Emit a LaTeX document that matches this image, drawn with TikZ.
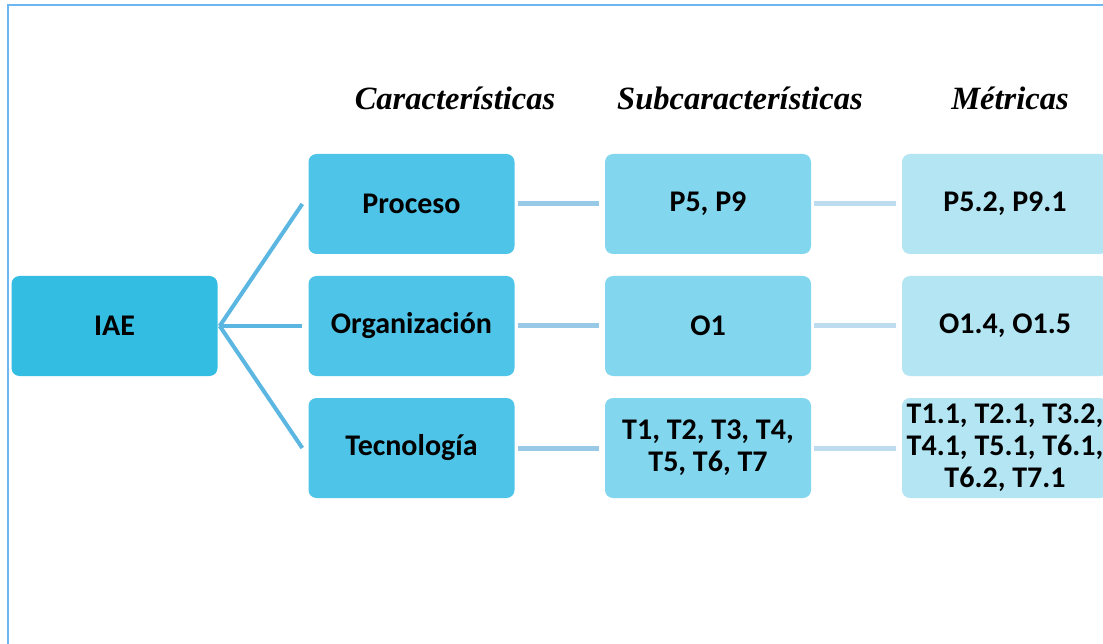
\documentclass[tikz,border=0pt]{standalone}
\usepackage{fontspec}
\usetikzlibrary{calc}
\setmainfont{Liberation Serif}
\newfontfamily\boxfont{Carlito}
\definecolor{frameblue}{HTML}{6CB6F2}
\definecolor{rootc}{HTML}{33BDE3}
\definecolor{charc}{HTML}{4EC5E8}
\definecolor{subc}{HTML}{82D7EE}
\definecolor{metc}{HTML}{B3E5F3}
\definecolor{linka}{HTML}{5BB7E1}
\definecolor{linkb}{HTML}{98CAE7}
\definecolor{linkc}{HTML}{BEDCF0}
\tikzset{
  boxbase/.style={rounded corners=8pt, minimum width=206pt, minimum height=100pt, inner sep=2pt,
    align=center, font=\boxfont\bfseries\fontsize{30}{32}\selectfont, text=black},
  rootbox/.style={boxbase, fill=rootc},
  charbox/.style={boxbase, fill=charc},
  subbox/.style={boxbase, fill=subc},
  metbox/.style={boxbase, fill=metc},
  header/.style={font=\bfseries\itshape\fontsize{32.5}{36}\selectfont, anchor=base},
  linkroot/.style={draw=linka, line width=4pt},
  linkmid/.style={draw=linkb, line width=5pt},
  linkend/.style={draw=linkc, line width=5pt},
}
\begin{document}
\begin{tikzpicture}[x=1pt,y=-1pt]
\useasboundingbox (0,0) rectangle (1103,644);
\clip (0,0) rectangle (1103,644);
\fill[white] (0,0) rectangle (1103,644);
\draw[frameblue, line width=2pt] (8,5) rectangle (1130,680);

\node[header] (h1) at (455,110) {Características};
\node[header] (h2) at (740,110) {Subcaracterísticas};
\node[header] (h3) at (1010,110) {Métricas};

\node[rootbox] (iae) at (114.5,326) {IAE};
\node[charbox] (proc) at (411.5,204) {Proceso};
\node[charbox] (org) at (411.5,326) {Organización};
\node[charbox] (tec) at (411.5,448) {Tecnología};
\node[subbox] (p59) at (708,204) {P5, P9};
\node[subbox] (o1) at (708,326) {O1};
\node[subbox] (tt) at (708,448) {T1, T2, T3, T4,\\T5, T6, T7};
\node[metbox] (mp) at (1005,204) {P5.2, P9.1};
\node[metbox] (mo) at (1005,326) {O1.4, O1.5};
\node[metbox] (mt) at (1005,448) {T1.1, T2.1, T3.2,\\T4.1, T5.1, T6.1,\\T6.2, T7.1};

\coordinate (hub) at ($(iae.east)+(2,0)$);
\draw[linkroot] (hub) -- ($(proc.west)+(-6,0)$);
\draw[linkroot] (hub) -- ($(org.west)+(-6,0)$);
\draw[linkroot] (hub) -- ($(tec.west)+(-6,0)$);

\draw[linkmid] ($(proc.east)+(3,0)$) -- ($(p59.west)+(-6,0)$);
\draw[linkmid] ($(org.east)+(3,0)$) -- ($(o1.west)+(-6,0)$);
\draw[linkmid] ($(tec.east)+(3,0)$) -- ($(tt.west)+(-6,0)$);

\draw[linkend] ($(p59.east)+(3,0)$) -- ($(mp.west)+(-6,0)$);
\draw[linkend] ($(o1.east)+(3,0)$) -- ($(mo.west)+(-6,0)$);
\draw[linkend] ($(tt.east)+(3,0)$) -- ($(mt.west)+(-6,0)$);
\end{tikzpicture}
\end{document}
